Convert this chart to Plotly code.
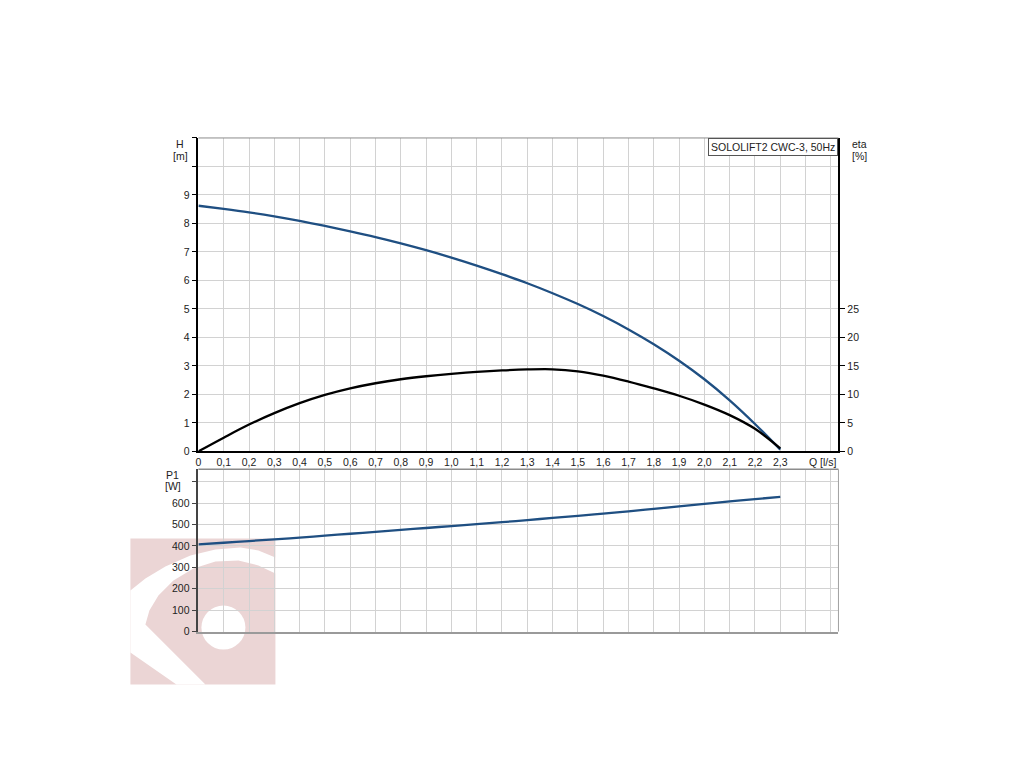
import plotly.graph_objects as go

# Pumpenkennlinie SOLOLIFT2 CWC-3, 50Hz
q = [0.0, 0.1, 0.2, 0.3, 0.4, 0.5, 0.6, 0.7, 0.8, 0.9, 1.0, 1.1,
     1.2, 1.3, 1.4, 1.5, 1.6, 1.7, 1.8, 1.9, 2.0, 2.1, 2.2, 2.3]
h = [8.62, 8.51, 8.39, 8.25, 8.09, 7.91, 7.72, 7.52, 7.30, 7.06, 6.80, 6.52,
     6.22, 5.90, 5.55, 5.17, 4.75, 4.28, 3.76, 3.18, 2.53, 1.79, 0.96, 0.06]
eta = [0.0, 2.4, 4.7, 6.7, 8.45, 9.9, 11.05, 11.95, 12.65, 13.18, 13.6, 13.94,
       14.2, 14.37, 14.4, 14.05, 13.3, 12.25, 11.05, 9.75, 8.2, 6.35, 3.95, 0.5]
p1 = [407, 415, 423, 431, 439, 448, 457, 466, 475, 484, 493, 502,
      511, 521, 531, 541, 551, 562, 573, 585, 597, 608, 619, 629]

q_ticks = [0, 0.1, 0.2, 0.3, 0.4, 0.5, 0.6, 0.7, 0.8, 0.9, 1.0, 1.1, 1.2,
           1.3, 1.4, 1.5, 1.6, 1.7, 1.8, 1.9, 2.0, 2.1, 2.2, 2.3, 2.4, 2.5]
q_labels = ['0', '0,1', '0,2', '0,3', '0,4', '0,5', '0,6', '0,7', '0,8', '0,9',
            '1,0', '1,1', '1,2', '1,3', '1,4', '1,5', '1,6', '1,7', '1,8', '1,9',
            '2,0', '2,1', '2,2', '2,3', '', '']
h_ticks = [0, 1, 2, 3, 4, 5, 6, 7, 8, 9, 10, 11]
h_labels = ['0', '1', '2', '3', '4', '5', '6', '7', '8', '9', '', '']
eta_ticks = [0, 5, 10, 15, 20, 25]
p_ticks = [0, 100, 200, 300, 400, 500, 600, 700]
p_labels = ['0', '100', '200', '300', '400', '500', '600', '']

W, H = 1024, 768
font_family = "Liberation Sans, Arial, sans-serif"
txt = "#222222"
grid = "#d2d2d2"
blue = "#1f4f82"


def px(x, y):
    # Pixel im Bild -> Papierkoordinaten (mit Korrektur fuer den Seitenrand)
    x = (x - 10.6) / 0.997
    y = (y - 8.2) / 0.991
    return x / W, 1 - y / H


def path(points):
    s = ""
    for i, (x, y) in enumerate(points):
        a, b = px(x, y)
        s += ("M" if i == 0 else "L") + f"{a:.5f},{b:.5f} "
    return s + "Z"


fig = go.Figure()

fig.add_trace(go.Scatter(x=q, y=h, mode='lines', line=dict(color=blue, width=2.3, shape='spline'),
                         xaxis='x', yaxis='y', showlegend=False))
fig.add_trace(go.Scatter(x=q, y=eta, mode='lines', line=dict(color='black', width=2.3, shape='spline'),
                         xaxis='x', yaxis='y2', showlegend=False))
fig.add_trace(go.Scatter(x=q, y=p1, mode='lines', line=dict(color=blue, width=2.3, shape='spline'),
                         xaxis='x2', yaxis='y3', showlegend=False))

x0, x1 = px(198, 0)[0], px(838, 0)[0]
top_dom = [px(0, 451)[1], px(0, 138)[1]]
bot_dom = [px(0, 631)[1], px(0, 469)[1]]

fig.update_layout(
    width=W, height=H,
    margin=dict(l=0, r=0, t=0, b=0, pad=0),
    paper_bgcolor='white', plot_bgcolor='rgba(0,0,0,0)',
    font=dict(family=font_family, size=10.5, color=txt),
    xaxis=dict(domain=[x0, x1], range=[0, 2.53], tickvals=q_ticks, ticktext=q_labels,
               showgrid=True, gridcolor=grid, gridwidth=1, zeroline=False,
               showline=True, linecolor='black', linewidth=1.5, ticks='', anchor='y'),
    yaxis=dict(domain=top_dom, range=[0, 11], tickvals=h_ticks, ticktext=h_labels,
               showgrid=True, gridcolor=grid, gridwidth=1, zeroline=False,
               showline=True, linecolor='black', linewidth=1.5,
               ticks='outside', ticklen=5, tickcolor='black', anchor='x'),
    yaxis2=dict(overlaying='y', side='right', range=[0, 55], tickvals=eta_ticks,
                showgrid=False, zeroline=False, showline=True, linecolor='black', linewidth=1.5,
                ticks='outside', ticklen=5, tickcolor='black', anchor='x'),
    xaxis2=dict(domain=[x0, x1], range=[0, 2.53], tickvals=q_ticks, showticklabels=False,
                showgrid=True, gridcolor=grid, gridwidth=1, zeroline=False,
                showline=True, linecolor='#9a9a9a', linewidth=2, ticks='', anchor='y3', matches='x'),
    yaxis3=dict(domain=bot_dom, range=[0, 758], tickvals=p_ticks, ticktext=p_labels,
                showgrid=True, gridcolor=grid, gridwidth=1, zeroline=False,
                showline=True, linecolor='#444444', linewidth=1.5,
                ticks='outside', ticklen=5, tickcolor='#444444', anchor='x2'),
)

# Rahmen oben / rechts
fig.add_shape(type='line', xref='x domain', yref='y domain', x0=0, x1=1, y0=1, y1=1,
              line=dict(color='#8c8c8c', width=1))
fig.add_shape(type='line', xref='x2 domain', yref='y3 domain', x0=0, x1=1, y0=1, y1=1,
              line=dict(color='#8c8c8c', width=1.5))
fig.add_shape(type='line', xref='x2 domain', yref='y3 domain', x0=1, x1=1, y0=0, y1=1,
              line=dict(color='#a0a0a0', width=1))

# Wasserzeichen (Logo) unten links
pink = "#ebd5d5"
fig.add_shape(type='path', xref='paper', yref='paper', layer='below', line=dict(width=0),
              fillcolor=pink, path=path([(130, 538), (275, 538), (275, 684), (130, 684)]))
fig.add_shape(type='path', xref='paper', yref='paper', layer='below', line=dict(width=0),
              fillcolor='white',
              path=path([(130, 590), (145, 578), (165, 566), (190, 555), (215, 549), (240, 547),
                         (258, 550), (275, 557), (275, 573), (258, 565), (238, 560), (215, 561),
                         (193, 568), (173, 580), (158, 595), (149, 610), (145, 624),
                         (205, 684), (176, 684), (130, 652)]))
cx0, cy0 = px(201, 605)
cx1, cy1 = px(245, 649)
fig.add_shape(type='circle', xref='paper', yref='paper', layer='below', line=dict(width=0),
              fillcolor='white', x0=cx0, x1=cx1, y0=cy1, y1=cy0)

# Achsbeschriftungen
labels = [("H", 180, 144), ("[m]", 180, 156), ("eta", 859, 144), ("[%]", 859, 156),
          ("P1", 172, 475), ("[W]", 173, 486), ("Q [l/s]", 823, 462)]
for t, lx, ly in labels:
    a, b = px(lx, ly)
    fig.add_annotation(text=t, x=a, y=b, xref='paper', yref='paper', showarrow=False,
                       xanchor='center', yanchor='middle', font=dict(size=10.5, color=txt))

fig.add_annotation(text="SOLOLIFT2 CWC-3, 50Hz", x=1, y=1, xref='x domain', yref='y domain',
                   xanchor='right', yanchor='top', showarrow=False, bgcolor='white',
                   bordercolor='#555555', borderwidth=1, borderpad=2,
                   font=dict(size=10.5, color=txt))

fig.write_html("out.html")
